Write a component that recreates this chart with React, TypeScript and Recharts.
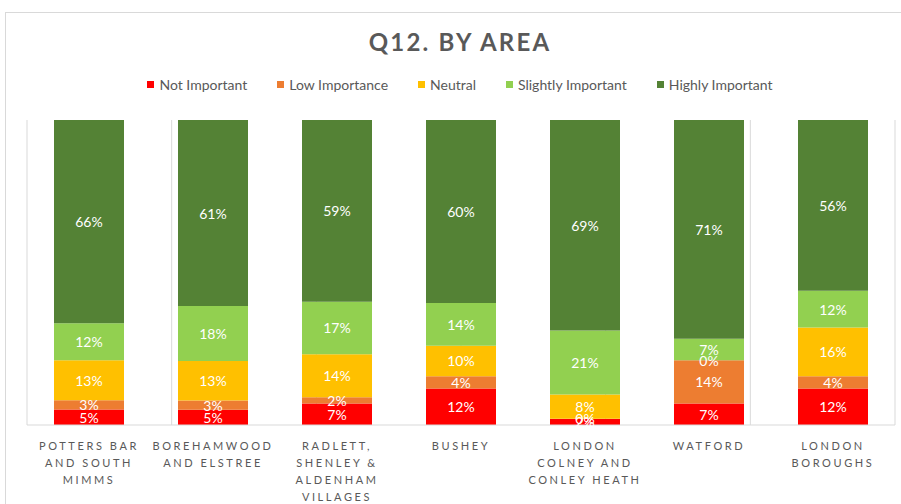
import React from "react";
import { BarChart, Bar, XAxis, YAxis, CartesianGrid, LabelList, Legend } from "recharts";

const categories = [
  "POTTERS BAR AND SOUTH MIMMS",
  "BOREHAMWOOD AND ELSTREE",
  "RADLETT, SHENLEY & ALDENHAM VILLAGES",
  "BUSHEY",
  "LONDON COLNEY AND CONLEY HEATH",
  "WATFORD",
  "LONDON BOROUGHS",
];
const tickLines = [
  ["POTTERS BAR", "AND SOUTH", "MIMMS"],
  ["BOREHAMWOOD", "AND ELSTREE"],
  ["RADLETT,", "SHENLEY &", "ALDENHAM", "VILLAGES"],
  ["BUSHEY"],
  ["LONDON", "COLNEY AND", "CONLEY HEATH"],
  ["WATFORD"],
  ["LONDON", "BOROUGHS"],
];
const notImportant = [5, 5, 7, 12, 2, 7, 12];
const lowImportance = [3, 3, 2, 4, 0, 14, 4];
const neutral = [13, 13, 14, 10, 8, 0, 16];
const slightlyImportant = [12, 18, 17, 14, 21, 7, 12];
const highlyImportant = [66, 61, 59, 60, 69, 71, 56];
const gridTicks = [0, 1, 2, 3, 4, 5, 6, 7];

const series = [
  { key: "notImportant", name: "Not Important", color: "#FF0000", values: notImportant },
  { key: "lowImportance", name: "Low Importance", color: "#ED7D31", values: lowImportance },
  { key: "neutral", name: "Neutral", color: "#FFC000", values: neutral },
  { key: "slightlyImportant", name: "Slightly Important", color: "#92D050", values: slightlyImportant },
  { key: "highlyImportant", name: "Highly Important", color: "#548235", values: highlyImportant },
];

// zero-valued segments keep a negligible size so their "0%" labels are still drawn
const data = categories.map((c, i) => {
  const row: any = { name: c, idx: i };
  series.forEach((s) => (row[s.key] = s.values[i] === 0 ? 0.02 : s.values[i]));
  return row;
});

const FONT = "Lato, 'Open Sans', sans-serif";

const makeLabel = (values: number[]) => (props: any) => {
  const { x, y, width, height, value } = props;
  const idx = typeof value === "number" ? value : 0;
  return (
    <text
      x={x + width / 2}
      y={y + height / 2}
      fill="#ffffff"
      textAnchor="middle"
      dominantBaseline="central"
      fontSize={14}
      fontFamily={FONT}
    >
      {values[idx]}%
    </text>
  );
};

const Tick = (props: any) => {
  const { x, y, index } = props;
  const lines = tickLines[index] || [];
  return (
    <g>
      {lines.map((l, i) => (
        <text
          key={i}
          x={x}
          y={y + 17 + i * 17}
          textAnchor="middle"
          fill="#595959"
          fontSize={11}
          fontFamily={FONT}
          letterSpacing={2.6}
        >
          {l}
        </text>
      ))}
    </g>
  );
};

const LegendContent = () => (
  <div
    style={{
      display: "flex",
      justifyContent: "center",
      fontFamily: FONT,
      fontSize: 14,
      color: "#595959",
      gap: 30,
      lineHeight: "17px",
    }}
  >
    {series.map((s) => (
      <div key={s.key} style={{ display: "flex", alignItems: "center" }}>
        <span style={{ display: "inline-block", width: 7, height: 7, background: s.color, marginRight: 5 }} />
        <span>{s.name}</span>
      </div>
    ))}
  </div>
);

export default function App() {
  return (
    <div style={{ position: "absolute", left: 0, top: 0, width: 901, height: 504, overflow: "hidden", background: "#fff" }}>
      <div
        style={{
          position: "absolute",
          left: 5,
          top: 12,
          width: 1000,
          height: 600,
          border: "1px solid #d9d9d9",
        }}
      />
      <div
        style={{
          position: "absolute",
          left: 0,
          top: 27,
          width: 920,
          textAlign: "center",
          fontFamily: FONT,
          fontWeight: 700,
          fontSize: 24,
          letterSpacing: 2.2,
          color: "#595959",
        }}
      >
        Q12. BY AREA
      </div>
      <div style={{ position: "absolute", left: 0, top: 0 }}>
        <BarChart
          width={901}
          height={504}
          data={data}
          stackOffset="expand"
          margin={{ top: 103, right: 6, bottom: 0, left: 27 }}
          barSize={70}
        >
          <CartesianGrid xAxisId="grid" horizontal={false} stroke="#d9d9d9" />
          <XAxis
            dataKey="name"
            height={79}
            interval={0}
            tickLine={false}
            axisLine={{ stroke: "#d9d9d9" }}
            tick={<Tick />}
          />
          <XAxis xAxisId="grid" type="number" domain={[0, 7]} ticks={gridTicks} hide />
          <YAxis hide domain={[0, 1]} />
          <Legend
            verticalAlign="top"
            content={<LegendContent />}
            wrapperStyle={{ top: 76, left: 0, width: 920 }}
          />
          {series.map((s) => (
            <Bar key={s.key} dataKey={s.key} name={s.name} stackId="a" fill={s.color} isAnimationActive={false}>
              <LabelList valueAccessor={(entry: any) => entry?.payload?.idx} content={makeLabel(s.values)} />
            </Bar>
          ))}
        </BarChart>
      </div>
    </div>
  );
}
